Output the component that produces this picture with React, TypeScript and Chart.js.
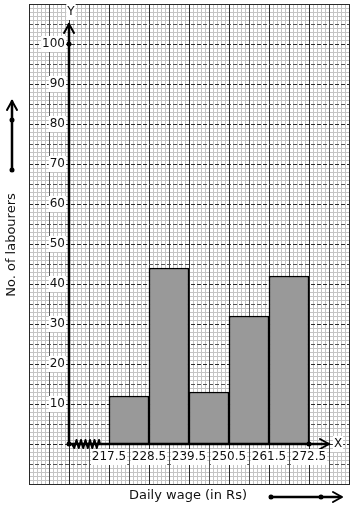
import React, { useEffect, useRef } from "react";
import { Chart, registerables } from "chart.js";
Chart.register(...registerables);

const classEdges = [217.5, 228.5, 239.5, 250.5, 261.5, 272.5];
const labourers = [12, 44, 13, 32, 42];
const yTickValues = [10, 20, 30, 40, 50, 60, 70, 80, 90, 100];
const xTitle = "Daily wage (in Rs)";
const yTitle = "No. of labourers";
const xAxisMin = 195.5;
const xAxisMax = 283.5;
const yAxisMin = -10;
const yAxisMax = 110;
const originX = 206.5;

const FONT = "12px 'DejaVu Sans', sans-serif";

function labelBox(ctx: CanvasRenderingContext2D, text: string, x: number, y: number, align: CanvasTextAlign) {
  ctx.font = FONT;
  const w = ctx.measureText(text).width;
  let left = x;
  if (align === "center") left = x - w / 2;
  else if (align === "right") left = x - w;
  ctx.fillStyle = "#fff";
  ctx.fillRect(left - 1, y - 8, w + 2, 16);
  ctx.fillStyle = "#111";
  ctx.textAlign = align;
  ctx.textBaseline = "middle";
  ctx.fillText(text, x, y);
}

function dot(ctx: CanvasRenderingContext2D, x: number, y: number) {
  ctx.beginPath();
  ctx.arc(x, y, 2.5, 0, Math.PI * 2);
  ctx.fillStyle = "#000";
  ctx.fill();
}

const paperPlugin = {
  id: "paper",
  beforeDatasetsDraw(chart: any) {
    const ctx: CanvasRenderingContext2D = chart.ctx;
    const xs = chart.scales.x;
    const ys = chart.scales.y;
    const a = chart.chartArea;
    ctx.save();
    ctx.fillStyle = "#fff";
    ctx.fillRect(a.left, a.top, a.right - a.left, a.bottom - a.top);
    const nX = Math.round((xAxisMax - xAxisMin) / 1.1);
    const nY = yAxisMax - yAxisMin;
    // minor
    ctx.lineWidth = 1;
    ctx.strokeStyle = "#c4c4c4";
    for (let k = 0; k <= nX; k++) {
      if (k % 5 === 0) continue;
      const px = Math.round(xs.getPixelForValue(xAxisMin + k * 1.1)) + 0.5;
      ctx.beginPath();
      ctx.moveTo(px, a.top);
      ctx.lineTo(px, a.bottom);
      ctx.stroke();
    }
    for (let k = 0; k <= nY; k++) {
      if (k % 5 === 0) continue;
      const py = Math.round(ys.getPixelForValue(yAxisMin + k)) + 0.5;
      ctx.beginPath();
      ctx.moveTo(a.left, py);
      ctx.lineTo(a.right, py);
      ctx.stroke();
    }
    // major
    for (let k = 0; k <= nX; k += 5) {
      const px = Math.round(xs.getPixelForValue(xAxisMin + k * 1.1)) + 0.5;
      ctx.strokeStyle = k % 10 === 0 ? "#2a2a2a" : "#555";
      ctx.beginPath();
      ctx.moveTo(px, a.top);
      ctx.lineTo(px, a.bottom);
      ctx.stroke();
    }
    ctx.setLineDash([4, 2]);
    for (let k = 0; k <= nY; k += 5) {
      const py = Math.round(ys.getPixelForValue(yAxisMin + k)) + 0.5;
      ctx.strokeStyle = k % 10 === 0 ? "#2a2a2a" : "#555";
      ctx.beginPath();
      ctx.moveTo(a.left, py);
      ctx.lineTo(a.right, py);
      ctx.stroke();
    }
    ctx.setLineDash([]);
    ctx.strokeStyle = "#2a2a2a";
    ctx.strokeRect(Math.round(a.left) + 0.5, Math.round(a.top) + 0.5, Math.round(a.right - a.left), Math.round(a.bottom - a.top));
    ctx.restore();
  },
  afterDatasetsDraw(chart: any) {
    const ctx: CanvasRenderingContext2D = chart.ctx;
    const xs = chart.scales.x;
    const ys = chart.scales.y;
    const ox = xs.getPixelForValue(originX);
    const oy = ys.getPixelForValue(0);
    ctx.save();
    ctx.strokeStyle = "#000";
    ctx.lineCap = "round";
    ctx.lineJoin = "round";
    // Y axis
    const yTop = ys.getPixelForValue(105);
    ctx.lineWidth = 2.5;
    ctx.beginPath();
    ctx.moveTo(ox, oy);
    ctx.lineTo(ox, yTop);
    ctx.stroke();
    ctx.lineWidth = 2;
    ctx.beginPath();
    ctx.moveTo(ox - 5, yTop + 9);
    ctx.lineTo(ox, yTop);
    ctx.lineTo(ox + 5, yTop + 9);
    ctx.stroke();
    // X axis
    const xEnd = xs.getPixelForValue(278);
    ctx.lineWidth = 2.5;
    ctx.beginPath();
    ctx.moveTo(ox, oy);
    ctx.lineTo(xEnd, oy);
    ctx.stroke();
    ctx.lineWidth = 2;
    ctx.beginPath();
    ctx.moveTo(xEnd - 9, oy - 5);
    ctx.lineTo(xEnd, oy);
    ctx.lineTo(xEnd - 9, oy + 5);
    ctx.stroke();
    // zigzag break
    ctx.lineWidth = 2;
    ctx.beginPath();
    const zStart = ox + 3;
    const zEnd = xs.getPixelForValue(classEdges[0]) - 10;
    const teeth = 6;
    const step = (zEnd - zStart) / (teeth * 2);
    ctx.moveTo(zStart, oy);
    for (let i = 1; i <= teeth * 2; i++) {
      ctx.lineTo(zStart + i * step, oy + (i % 2 === 1 ? 4 : -4));
    }
    ctx.lineTo(zEnd + 1, oy);
    ctx.stroke();
    dot(ctx, ox, oy);
    dot(ctx, ox, ys.getPixelForValue(100));
    dot(ctx, xs.getPixelForValue(classEdges[classEdges.length - 1]), oy);
    // tick labels
    for (const v of yTickValues) {
      labelBox(ctx, String(v), ox - 4, ys.getPixelForValue(v), "right");
    }
    for (const e of classEdges) {
      labelBox(ctx, String(e), xs.getPixelForValue(e), oy + 13, "center");
    }
    labelBox(ctx, "Y", ox + 2, ys.getPixelForValue(108), "center");
    labelBox(ctx, "X", xEnd + 9, oy, "center");
    // titles
    ctx.font = "13px 'DejaVu Sans', sans-serif";
    ctx.fillStyle = "#111";
    ctx.textAlign = "center";
    ctx.textBaseline = "middle";
    ctx.fillText(xTitle, 188, 496);
    ctx.save();
    ctx.translate(12, 245);
    ctx.rotate(-Math.PI / 2);
    ctx.fillText(yTitle, 0, 0);
    ctx.restore();
    // left arrow
    ctx.lineWidth = 2.5;
    ctx.beginPath();
    ctx.moveTo(12, 170);
    ctx.lineTo(12, 101);
    ctx.stroke();
    ctx.lineWidth = 2;
    ctx.beginPath();
    ctx.moveTo(7, 110);
    ctx.lineTo(12, 101);
    ctx.lineTo(17, 110);
    ctx.stroke();
    dot(ctx, 12, 120);
    dot(ctx, 12, 170);
    // bottom arrow
    ctx.lineWidth = 2.5;
    ctx.beginPath();
    ctx.moveTo(271, 497);
    ctx.lineTo(341, 497);
    ctx.stroke();
    ctx.lineWidth = 2;
    ctx.beginPath();
    ctx.moveTo(333, 492);
    ctx.lineTo(342, 497);
    ctx.lineTo(333, 502);
    ctx.stroke();
    dot(ctx, 271, 497);
    dot(ctx, 321, 497);
    ctx.restore();
  },
};

export default function App() {
  const ref = useRef<HTMLCanvasElement | null>(null);
  useEffect(() => {
    if (!ref.current) return;
    const data = labourers.map((v, i) => ({ x: (classEdges[i] + classEdges[i + 1]) / 2, y: v }));
    const chart = new Chart(ref.current, {
      type: "bar",
      data: {
        datasets: [
          {
            data: data as any,
            backgroundColor: "#999999",
            borderColor: "#000",
            borderWidth: 1.5,
            barPercentage: 1,
            categoryPercentage: 1,
          },
        ],
      },
      options: {
        animation: false,
        responsive: false,
        devicePixelRatio: 1,
        layout: { padding: { left: 29, right: 5, top: 4, bottom: 26 } },
        plugins: { legend: { display: false }, tooltip: { enabled: false } },
        scales: {
          x: { type: "linear", min: xAxisMin, max: xAxisMax, display: false, offset: false },
          y: { type: "linear", min: yAxisMin, max: yAxisMax, display: false },
        },
      },
      plugins: [paperPlugin],
    });
    return () => chart.destroy();
  }, []);
  return (
    <div style={{ position: "absolute", left: 0, top: 0, width: 354, height: 510, background: "#fff" }}>
      <canvas ref={ref} width={354} height={510} />
    </div>
  );
}
